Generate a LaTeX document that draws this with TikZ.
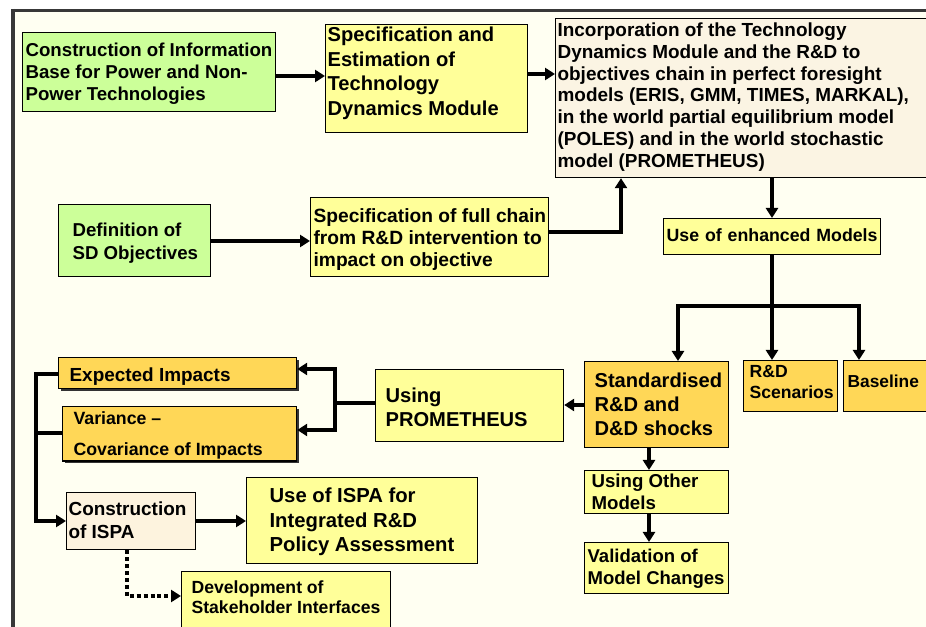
\documentclass[tikz,border=0pt]{standalone}
\usepackage{fontspec}
\setmainfont{Liberation Sans}
\usetikzlibrary{arrows.meta,shadows}
\newcommand{\setfs}[2]{\fontsize{#1pt}{#2pt}\selectfont\bfseries}
% width, font size, baselineskip, left pad, text
\newcommand{\bxtxt}[5]{\parbox[t]{#1}{\setfs{#2}{#3}\leftskip=#4\relax #5}}
\definecolor{bgcream}{HTML}{FFFFF2}
\definecolor{framegrey}{HTML}{383838}
\definecolor{cgreen}{HTML}{CCFF99}
\definecolor{cyellow}{HTML}{FFFF99}
\definecolor{cgold}{HTML}{FFD757}
\definecolor{cispa}{HTML}{FDF3DE}
\definecolor{cincorp}{HTML}{FBF4E3}
\begin{document}
\begin{tikzpicture}[x=0.75pt,y=-0.75pt,
  box/.style={draw=black, line width=0.9pt, anchor=north west, inner xsep=0pt, inner ysep=0pt},
  greenbox/.style={box, fill=cgreen},
  yellowbox/.style={box, fill=cyellow},
  goldbox/.style={box, fill=cgold},
  shadowbox/.style={box, fill=cgold, drop shadow={shadow xshift=1.6pt, shadow yshift=-1.8pt, fill=black!80, opacity=1}},
  ispabox/.style={box, fill=cispa},
  incorpbox/.style={box, fill=cincorp},
  tip/.tip={Triangle[length=7.5pt,width=9pt]},
  conn/.style={line width=3.6pt, -tip},
  plainline/.style={line width=3.6pt},
  bracketconn/.style={line width=2.6pt, -tip},
  bracketline/.style={line width=2.6pt},
  dottedconn/.style={line width=3.4pt, dash pattern=on 3pt off 2.2pt, -tip}
]
\useasboundingbox (0,0) rectangle (926,627);
\clip (0,0) rectangle (926,627);
% frame
\fill[white] (0,0) rectangle (926,627);
\fill[bgcream] (12,10) rectangle (930,630);
\draw[framegrey, line width=2.4pt] (11,10.5) -- (930,10.5);
\draw[framegrey, line width=2.8pt] (12.8,9) -- (12.8,630);

% boxes
\node[greenbox, text height=17.85pt, text depth=41.4pt] (n1) at (22,32)
  {\bxtxt{189.75pt}{14}{16.5}{2.25pt}{Construction of Information\\Base for Power and Non-\\Power Technologies}};
\node[yellowbox, text height=12.97pt, text depth=68pt] (n2) at (325,24)
  {\bxtxt{151.5pt}{15.1}{18.4}{1.5pt}{Specification and\\Estimation of\\Technology\\Dynamics Module}};
\node[incorpbox, text height=13.35pt, text depth=105.9pt] (n3) at (555,18)
  {\bxtxt{281.25pt}{14.2}{16.4}{1.5pt}{Incorporation of the Technology\\Dynamics Module and the R\&D to\\objectives chain in perfect foresight\\models (ERIS, GMM, TIMES, MARKAL),\\in the world partial equilibrium model\\(POLES) and in the world stochastic\\model (PROMETHEUS)}};
\node[greenbox, text height=23.8pt, text depth=30.2pt] (n4) at (58,204)
  {\bxtxt{114pt}{14}{17.25}{10.5pt}{Definition of\\SD Objectives}};
\node[yellowbox, text height=18.75pt, text depth=40.5pt] (n5) at (310,197)
  {\bxtxt{178.5pt}{14.4}{16.5}{2.25pt}{Specification of full chain\\from R\&D intervention to\\impact on objective}};
\node[yellowbox, align=center, font=\setfs{13.3}{16}, text width=162.75pt, text height=17.55pt, text depth=9.45pt] (n6) at (663,218)
  {Use of enhanced Models};
\node[goldbox, text height=19.7pt, text depth=44.8pt] (n7) at (584,361)
  {\bxtxt{108pt}{15.1}{18}{7.5pt}{Standardised\\R\&D and\\D\&D shocks}};
\node[goldbox, text height=13pt, text depth=25.3pt] (n8) at (743,360)
  {\bxtxt{70.5pt}{13.2}{15.75}{4.5pt}{R\&D\\Scenarios}};
\node[goldbox, text height=20.4pt, text depth=17.85pt] (n9) at (843,360)
  {\bxtxt{65.25pt}{13}{15.5}{3pt}{Baseline}};
\node[yellowbox, text height=24.9pt, text depth=29.1pt] (n10) at (375,369)
  {\bxtxt{141pt}{15.1}{18}{7.5pt}{Using\\PROMETHEUS}};
\node[shadowbox, text height=17.85pt, text depth=5.4pt] (n11) at (58,357)
  {\bxtxt{178.5pt}{14.2}{17}{8.25pt}{Expected Impacts}};
\node[shadowbox, text height=13.8pt, text depth=27pt] (n12) at (62,406)
  {\bxtxt{175.5pt}{13.3}{23.25}{8.25pt}{Variance --\\Covariance of Impacts}};
\node[ispabox, text height=17.1pt, text depth=25.65pt] (n13) at (66,492)
  {\bxtxt{96.75pt}{14.2}{17.25}{1.5pt}{Construction\\of ISPA}};
\node[yellowbox, text height=19pt, text depth=45.5pt] (n14) at (246,477)
  {\bxtxt{173.25pt}{15.2}{18.2}{17.25pt}{Use of ISPA for\\Integrated R\&D\\Policy Assessment}};
\node[yellowbox, text height=16.7pt, text depth=31.3pt] (n15) at (181,571)
  {\bxtxt{156.75pt}{13.2}{15}{7.5pt}{Development of\\Stakeholder Interfaces}};
\node[yellowbox, text height=12.5pt, text depth=19.7pt] (n16) at (584,470)
  {\bxtxt{108pt}{14}{16.5}{5.25pt}{Using Other\\Models}};
\node[yellowbox, text height=14.8pt, text depth=23.5pt] (n17) at (584,542)
  {\bxtxt{108pt}{13.9}{16.5}{2.25pt}{Validation of\\Model Changes}};

% junctions
\coordinate (j1) at (772,306);
\coordinate (j2) at (335,403);
\coordinate (b2) at (36,521);

% connectors
\draw[conn] (n1.east |- 0,76) -- (n2.west |- 0,76);
\draw[conn] (n2.east |- 0,74) -- (n3.west |- 0,74);
\draw[conn] (n4.east |- 0,241) -- (n5.west |- 0,241);
\draw[conn] (n5.east |- 0,232) -| (621,0 |- n3.south);
\draw[conn] (772,0 |- n3.south) -- (772,0 |- n6.north);
\draw[plainline] (772,0 |- n6.south) -- (j1);
\draw[conn] (j1) -| (678,0 |- n7.north);
\draw[conn] (j1) -- (772,0 |- n8.north);
\draw[conn] (j1) -| (859,0 |- n9.north);
\draw[conn] (n7.west |- 0,405) -- (n10.east |- 0,405);
\draw[plainline] (n10.west |- j2) -- (j2);
\draw[conn] (j2) |- (n11.east |- 0,369);
\draw[conn] (j2) |- (n12.east |- 0,430);
\draw[bracketconn] (n11.west |- 0,374) -| (b2) -- (n13.west |- b2);
\draw[bracketline] (n12.west |- 0,433) -- (36,433);
\draw[conn] (n13.east |- 0,521) -- (n14.west |- 0,521);
\draw[dottedconn] (n13.south -| 127,0) |- (n15.west |- 0,596);
\draw[conn] (649,0 |- n7.south) -- (649,0 |- n16.north);
\draw[conn] (649,0 |- n16.south) -- (649,0 |- n17.north);
\end{tikzpicture}
\end{document}
